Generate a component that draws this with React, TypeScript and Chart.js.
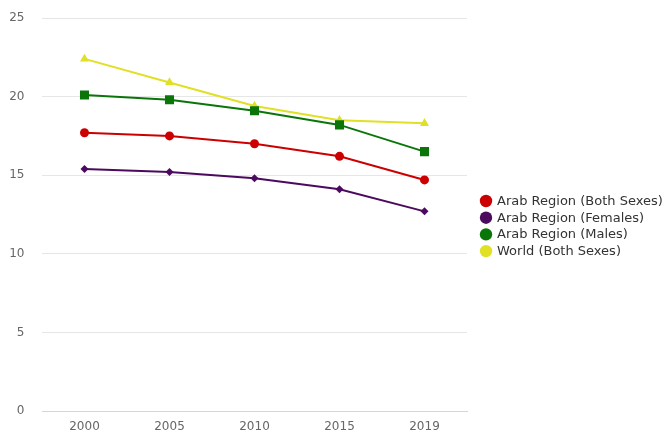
import React, { useEffect, useRef } from "react";
import { Chart, registerables } from "chart.js";

Chart.register(...registerables);

const years = ["2000", "2005", "2010", "2015", "2019"];
const arabBoth = [17.7, 17.5, 17.0, 16.2, 14.7];
const arabFemales = [15.4, 15.2, 14.8, 14.1, 12.7];
const arabMales = [20.1, 19.8, 19.1, 18.2, 16.5];
const worldBoth = [22.4, 20.9, 19.4, 18.5, 18.3];
const yTicks = [0, 5, 10, 15, 20, 25];

const FONT = "'DejaVu Sans', Verdana, sans-serif";

const sideLegend = {
  id: "sideLegend",
  afterDraw(chart: any) {
    const ctx = chart.ctx as CanvasRenderingContext2D;
    const ds = chart.data.datasets;
    const x0 = chart.chartArea.right;
    ctx.save();
    ctx.font = `13px ${FONT}`;
    ctx.textBaseline = "middle";
    ctx.textAlign = "left";
    ds.forEach((d: any, i: number) => {
      const y = 201 + i * 16.7;
      ctx.beginPath();
      ctx.arc(x0 + 19, y, 6.2, 0, Math.PI * 2);
      ctx.fillStyle = d.borderColor;
      ctx.fill();
      ctx.fillStyle = "#333333";
      ctx.fillText(d.label, x0 + 30, y + 0.5);
    });
    ctx.restore();
  },
};

export default function App() {
  const ref = useRef<HTMLCanvasElement | null>(null);

  useEffect(() => {
    document.body.style.margin = "0";
    const canvas = ref.current;
    if (!canvas) return;
    const mk = (label: string, data: number[], color: string, style: string, radius: number) => ({
      label,
      data,
      borderColor: color,
      backgroundColor: color,
      borderWidth: 2,
      pointStyle: style,
      pointRadius: radius,
      pointHoverRadius: radius,
      pointBorderWidth: 0,
      pointBackgroundColor: color,
      tension: 0,
    });
    const chart = new Chart(canvas, {
      type: "line",
      data: {
        labels: years,
        datasets: [
          mk("Arab Region (Both Sexes)", arabBoth, "#cc0000", "circle", 4.5),
          mk("Arab Region (Females)", arabFemales, "#4b0a5e", "rectRot", 4),
          mk("Arab Region (Males)", arabMales, "#0a760a", "rect", 6.4),
          mk("World (Both Sexes)", worldBoth, "#e0e024", "triangle", 5.2),
        ],
      },
      plugins: [sideLegend],
      options: {
        animation: false,
        responsive: false,
        maintainAspectRatio: false,
        layout: { padding: { top: 18, right: 197, bottom: 0, left: 0 } },
        plugins: {
          tooltip: { enabled: false },
          legend: { display: false },
        },
        scales: {
          x: {
            offset: true,
            grid: { display: false, drawTicks: false },
            border: { display: true, color: "#ccd6eb", width: 1 },
            ticks: { color: "#666666", font: { family: FONT, size: 12 }, padding: 9 },
            afterFit: (axis: any) => {
              axis.height = 23;
              axis.paddingLeft = 0;
              axis.paddingRight = 0;
            },
          },
          y: {
            min: 0,
            max: 25,
            afterBuildTicks: (axis: any) => {
              axis.ticks = yTicks.map((v) => ({ value: v }));
            },
            afterFit: (axis: any) => {
              axis.width = 42;
              axis.paddingTop = 0;
              axis.paddingBottom = 0;
            },
            grid: { color: "#e6e6e6", lineWidth: 1, drawTicks: false },
            border: { display: false },
            ticks: { color: "#666666", font: { family: FONT, size: 12 }, padding: 17.5 },
          },
        },
      },
    } as any);
    return () => chart.destroy();
  }, []);

  return (
    <div style={{ position: "relative", width: 664, height: 434 }}>
      <canvas ref={ref} width={664} height={434} style={{ display: "block", width: 664, height: 434 }} />
    </div>
  );
}
